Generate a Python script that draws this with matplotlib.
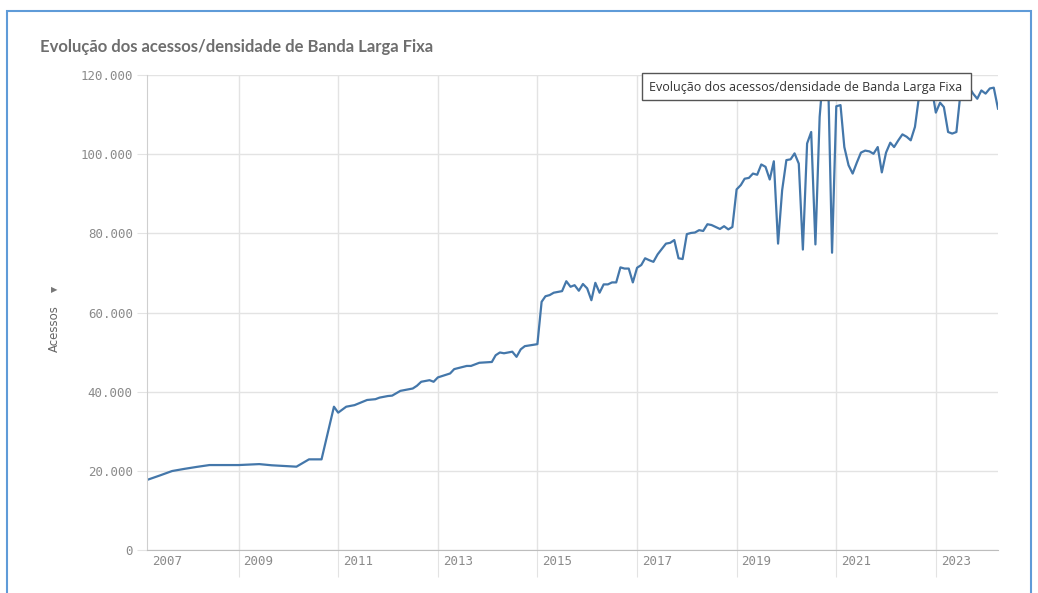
import matplotlib
matplotlib.use("Agg")
import matplotlib.pyplot as plt
from matplotlib.ticker import FuncFormatter, MultipleLocator
from matplotlib.patches import Rectangle
import pandas as pd

# Textos do painel
titulo = "Evolução dos acessos/densidade de Banda Larga Fixa"
rotulo_y = "Acessos"
anos_eixo = [2007, 2009, 2011, 2013, 2015, 2017, 2019, 2021, 2023]

# Serie (mes, acessos)
meses = [
    "2007-03", "2007-06", "2007-09", "2007-12", "2008-03", "2008-06",
    "2009-01", "2009-06", "2009-09", "2010-03", "2010-06", "2010-09",
    "2010-12", "2011-01", "2011-03", "2011-05", "2011-08", "2011-10",
    "2011-11", "2012-01", "2012-02", "2012-04", "2012-07", "2012-08",
    "2012-09", "2012-11", "2012-12", "2013-01", "2013-04", "2013-05",
    "2013-08", "2013-09", "2013-11", "2014-02", "2014-03", "2014-04",
    "2014-05", "2014-07", "2014-08", "2014-09", "2014-10", "2015-01",
    "2015-02", "2015-03", "2015-04", "2015-05", "2015-07", "2015-08",
    "2015-09", "2015-10", "2015-11", "2015-12", "2016-01", "2016-02",
    "2016-03", "2016-04", "2016-05", "2016-06", "2016-07", "2016-08",
    "2016-09", "2016-10", "2016-11", "2016-12", "2017-01", "2017-02",
    "2017-03", "2017-04", "2017-05", "2017-06", "2017-08", "2017-09",
    "2017-10", "2017-11", "2017-12", "2018-01", "2018-02", "2018-03",
    "2018-04", "2018-05", "2018-06", "2018-07", "2018-08", "2018-09",
    "2018-10", "2018-11", "2018-12", "2019-01", "2019-02", "2019-03",
    "2019-04", "2019-05", "2019-06", "2019-07", "2019-08", "2019-09",
    "2019-10", "2019-11", "2019-12", "2020-01", "2020-02", "2020-03",
    "2020-04", "2020-05", "2020-06", "2020-07", "2020-08", "2020-09",
    "2020-10", "2020-11", "2020-12", "2021-01", "2021-02", "2021-03",
    "2021-04", "2021-05", "2021-06", "2021-07", "2021-08", "2021-09",
    "2021-10", "2021-11", "2021-12", "2022-01", "2022-02", "2022-03",
    "2022-04", "2022-05", "2022-06", "2022-07", "2022-08", "2022-09",
    "2022-10", "2022-11", "2022-12", "2023-01", "2023-02", "2023-03",
    "2023-04", "2023-05", "2023-06", "2023-07", "2023-08", "2023-09",
    "2023-10", "2023-11", "2023-12", "2024-01", "2024-02", "2024-03",
    "2024-04",
]
acessos = [
    17700, 18800, 19950, 20500, 21000, 21460,
    21460, 21700, 21400, 21050, 22900, 22900,
    36200, 34700, 36200, 36600, 37900, 38100,
    38500, 38900, 39000, 40200, 40800, 41500,
    42500, 42900, 42500, 43600, 44600, 45700,
    46500, 46500, 47300, 47500, 49200, 49900,
    49700, 50100, 48800, 50700, 51500, 52000,
    62700, 64100, 64400, 65000, 65400, 67900,
    66500, 66900, 65500, 67200, 66100, 63100,
    67500, 65000, 67100, 67100, 67600, 67600,
    71400, 71100, 71100, 67600, 71300, 72000,
    73700, 73200, 72800, 74700, 77400, 77600,
    78300, 73700, 73500, 79800, 80100, 80200,
    80800, 80600, 82300, 82100, 81600, 81100,
    81800, 81000, 81600, 91100, 92200, 93800,
    94000, 95100, 94800, 97400, 96800, 93600,
    98200, 77400, 90900, 98500, 98700, 100200,
    97600, 75900, 102700, 105600, 77200, 109400,
    122000, 121000, 75100, 112100, 112400, 101800,
    97200, 95100, 97900, 100400, 100900, 100700,
    100100, 101800, 95400, 100400, 102900, 101800,
    103500, 105000, 104400, 103500, 106900, 114900,
    118500, 119000, 117000, 110500, 113000, 111900,
    105600, 105200, 105600, 115500, 117500, 117000,
    115300, 114000, 116100, 115300, 116600, 116800,
    111500,
]

W, H = 1038, 593
cor_linha = "#4477aa"
cor_grade = "#e3e3e3"
cor_texto = "#8a8a8a"

datas = pd.to_datetime(meses)

fig = plt.figure(figsize=(W / 100, H / 100), dpi=100)
fig.patch.set_facecolor("white")

# moldura azul do painel
fig.add_artist(Rectangle((7 / W, -0.05), (1031 - 7) / W, 1.05 - 11 / H,
                         transform=fig.transFigure, fill=False,
                         edgecolor="#5f9bd8", lw=1.5))

ax = fig.add_axes([147 / W, 1 - 550 / H, (998 - 147) / W, (550 - 75) / H])
ax.plot(datas, acessos, color=cor_linha, lw=1.6, solid_joinstyle="round")

ax.yaxis.set_major_locator(MultipleLocator(20000))
ax.yaxis.set_major_formatter(FuncFormatter(lambda v, p: f"{int(v):,}".replace(",", ".")))
ax.set_xticks(pd.to_datetime([f"{a}-01-01" for a in anos_eixo]))
# limites depois dos ticks (set_xticks amplia a vista)
ax.set_xlim(datas[0], datas[-1])
ax.set_ylim(0, 120000)
ax.grid(True, color=cor_grade, lw=1)
ax.set_axisbelow(True)

for s in ["top", "right"]:
    ax.spines[s].set_visible(False)
ax.spines["left"].set_color("#cfcfcf")
ax.spines["bottom"].set_color("#bdbdbd")

ax.tick_params(axis="y", length=7.2, color=cor_grade, pad=3,
               labelsize=9, labelcolor=cor_texto)
ax.tick_params(axis="x", length=19.4, color=cor_grade, labelbottom=False)
for lab in ax.get_yticklabels():
    lab.set_fontfamily("DejaVu Sans Mono")

# rotulos dos anos, a direita de cada linha de grade
x0 = datas[0]
for a in anos_eixo:
    d = max(pd.Timestamp(f"{a}-01-01"), x0)
    ax.annotate(str(a), xy=(d, 0), xycoords=("data", "axes fraction"),
                xytext=(3.5, -8.6), textcoords="offset points",
                ha="left", va="center", fontsize=9, color=cor_texto,
                family="DejaVu Sans Mono")

fig.text(40 / W, 1 - 47 / H, titulo, ha="left", va="center",
         fontsize=12, fontweight="bold", color="#6e6e6e", family="Lato")
fig.text(54 / W, 1 - 329 / H, rotulo_y, rotation=90, ha="center", va="center",
         fontsize=8.5, color="#666666")
fig.text(54 / W, 1 - 290 / H, "▶", ha="center", va="center",
         fontsize=6, color="#777777")

# dica (tooltip) sobre o grafico
fig.add_artist(Rectangle((642 / W, 1 - 100 / H), (971 - 642) / W, 27 / H,
                         transform=fig.transFigure, facecolor="white",
                         edgecolor="#555555", lw=1, zorder=5))
fig.text(806 / W, 1 - 87 / H, titulo, ha="center", va="center",
         fontsize=9, color="#333333", family="Open Sans", zorder=6)

fig.savefig("out.png", dpi=100)
